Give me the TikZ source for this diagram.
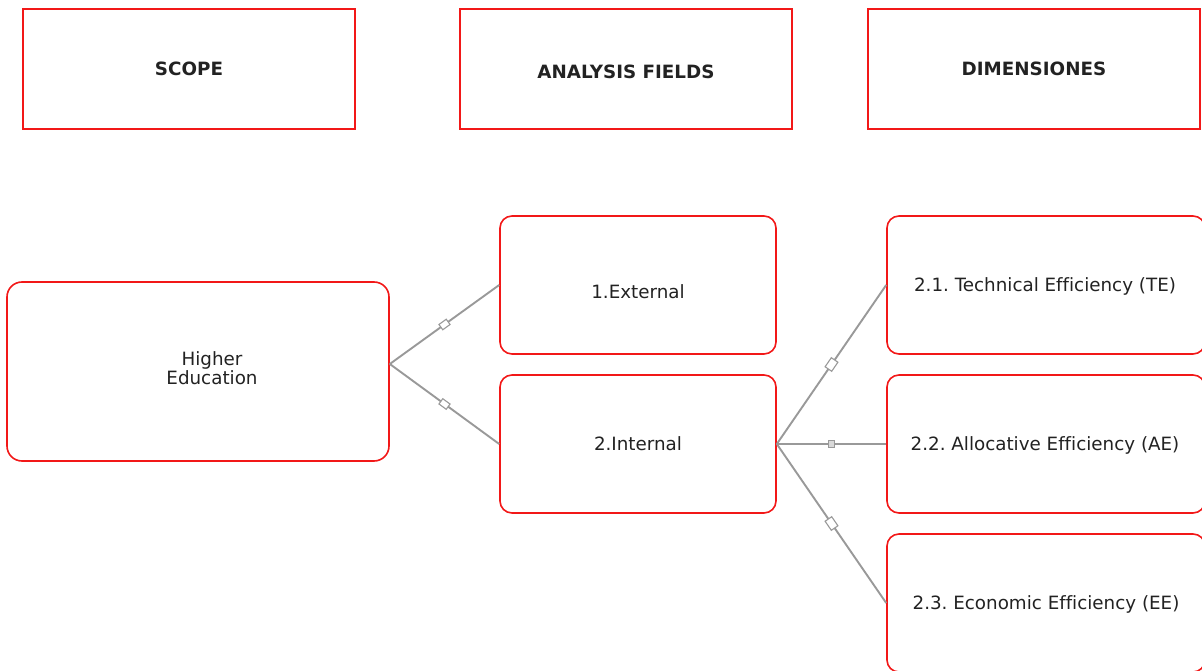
\documentclass[tikz,border=0pt]{standalone}
\usepackage{fontspec}
\setmainfont[Ligatures=NoCommon]{DejaVu Sans}
\begin{document}
\frenchspacing
\begin{tikzpicture}[x=1pt,y=-1pt,
  hdr/.style={draw=boxred,line width=1.2pt,rectangle,inner sep=0pt,minimum width=332pt,minimum height=120pt},
  rbox/.style={draw=boxred,line width=1.6pt,rectangle,rounded corners=12pt,inner sep=0pt,minimum width=276pt,minimum height=138pt},
  txt/.style={text=txtcol,font=\fontsize{18.3}{19}\selectfont,inner sep=0pt,align=center},
  one/.style={text height=13pt,text depth=0pt},
  htxt/.style={text=txtcol,font=\fontsize{18.3}{19}\selectfont\bfseries,inner sep=0pt,text height=13pt,text depth=0pt},
  conn/.style={draw=linegray,line width=1.9pt},
  mk/.style={draw=linegray,fill=white,line width=1.1pt,rectangle,sloped,inner sep=0pt,minimum width=#1},
]
\definecolor{boxred}{HTML}{F21818}
\definecolor{linegray}{HTML}{999999}
\definecolor{txtcol}{HTML}{222222}
\useasboundingbox (0,0) rectangle (1202,671);
% headers
\node[hdr] (scope) at (189,69) {};
\node[htxt] (scopet) at (189,69) {SCOPE};
\node[hdr] (af) at (626,69) {};
\node[htxt] (aft) at (626,72) {ANALYSIS FIELDS};
\node[hdr] (dim) at (1034,69) {};
\node[htxt] (dimt) at (1034,69) {DIMENSIONES};
% boxes
\node[rbox,rounded corners=15pt,minimum width=382pt,minimum height=179pt] (he) at (198,371.5) {};
\node[txt] (het) at (212,368) {Higher\\Education};
\node[rbox] (ext) at (638,285) {};
\node[txt,one] (extt) at (638,292) {1.External};
\node[rbox] (int) at (638,444) {};
\node[txt,one] (intt) at (638,444) {2.Internal};
\node[rbox,minimum width=318pt] (te) at (1046,285) {};
\node[txt,one] (tet) at (1045,285) {2.1. Technical Efficiency (TE)};
\node[rbox,minimum width=318pt] (ae) at (1046,444) {};
\node[txt,one] (aet) at (1045,444) {2.2. Allocative Efficiency (AE)};
\node[rbox,minimum width=318pt] (ee) at (1046,603) {};
\node[txt,one] (eet) at (1046,603) {2.3. Economic Efficiency (EE)};
% connectors
\draw[conn] ([yshift=7.5pt]he.east) -- node[mk=9pt,minimum height=6.5pt] (m1) {} (ext.west);
\draw[conn] ([yshift=7.5pt]he.east) -- node[mk=9pt,minimum height=6.5pt] (m2) {} (int.west);
\draw[conn] (int.east) -- node[mk=11pt,minimum height=8pt] (m3) {} (te.west);
\draw[conn] (int.east) -- node[mk=6.5pt,minimum height=6.5pt,fill=gray!30] (m4) {} (ae.west);
\draw[conn] (int.east) -- node[mk=11pt,minimum height=8pt] (m5) {} (ee.west);
\end{tikzpicture}
\end{document}
